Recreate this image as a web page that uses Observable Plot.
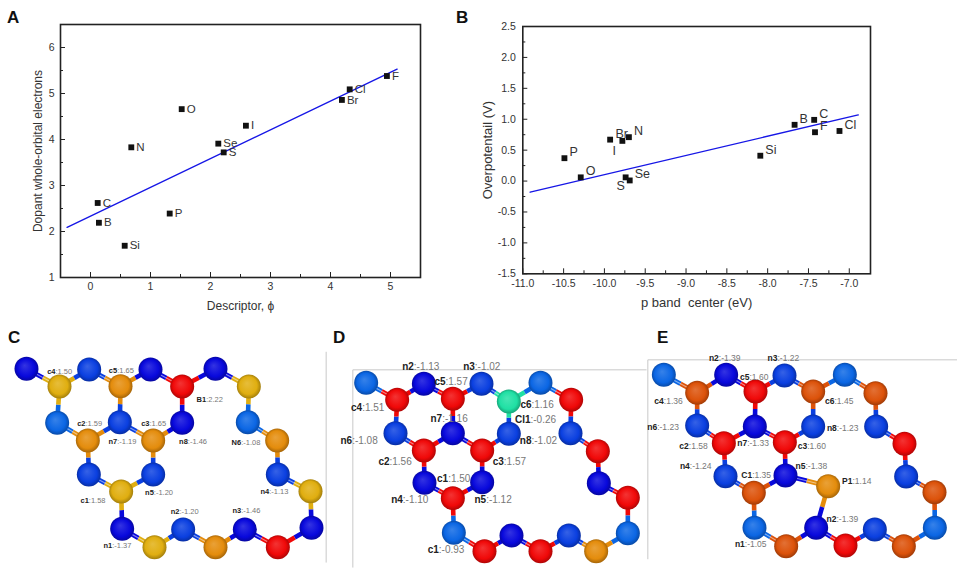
<!DOCTYPE html>
<html>
<head>
<meta charset="utf-8">
<script src="https://cdn.jsdelivr.net/npm/d3@7"></script>
<script src="https://cdn.jsdelivr.net/npm/@observablehq/plot@0.6"></script>
<style>
  html, body { margin: 0; background: #fff; }
  #page { position: relative; width: 957px; height: 568px; overflow: hidden; font-family: "Liberation Sans", Arial, sans-serif; }
  #page svg.panel { position: absolute; background: transparent; overflow: visible; }
  .letter { position: absolute; font-weight: bold; font-size: 17px; line-height: 17px; color: #111; }
</style>
</head>
<body>
<div id="page"></div>
<script>
// panel A
const aNames = ["C", "B", "Si", "P", "N", "O", "Se", "S", "I", "Br", "Cl", "F"];
const aDescriptor = [0.12, 0.14, 0.57, 1.32, 0.68, 1.52, 2.13, 2.22, 2.59, 4.19, 4.32, 4.94];
const aElectrons = [2.62, 2.19, 1.69, 2.39, 3.83, 4.66, 3.91, 3.72, 4.30, 4.86, 5.09, 5.38];
const aFitX = [-0.39, 5.11];
const aFitY = [2.09, 5.53];
const aTicksX = [0, 1, 2, 3, 4, 5];
const aMinorX = [0.5, 1.5, 2.5, 3.5, 4.5];
const aTicksY = [1, 2, 3, 4, 5, 6];
const aMinorY = [1.5, 2.5, 3.5, 4.5, 5.5];

// panel B
const bNames = ["P", "O", "I", "Br", "N", "S", "Se", "Si", "B", "C", "F", "Cl"];
const bCenter = [-10.49, -10.29, -9.93, -9.78, -9.70, -9.74, -9.69, -8.09, -7.67, -7.43, -7.42, -7.12];
const bOverpotential = [0.37, 0.06, 0.67, 0.65, 0.71, 0.06, 0.01, 0.41, 0.91, 0.99, 0.79, 0.81];
const bFitX = [-10.91, -6.89];
const bFitY = [-0.18, 1.07];
const bTicksX = [-11, -10.5, -10, -9.5, -9, -8.5, -8, -7.5, -7];
const bMinorX = [-10.75, -10.25, -9.75, -9.25, -8.75, -8.25, -7.75, -7.25];
const bTicksY = [-1.5, -1, -0.5, 0, 0.5, 1, 1.5, 2, 2.5];
const bMinorY = [-1.25, -0.75, -0.25, 0.25, 0.75, 1.25, 1.75, 2.25];
// labels that do not sit at the usual upper right of their point
const bLabelShift = {I: [4, 11, "middle"], Br: [-7, -7, "start"], S: [-5, 9, "middle"]};

// molecule colours
const atomColors = {
  navy: "#0808dc", blue: "#0a3fe0", sky: "#0b66e4",
  gold: "#e0ae10", amber: "#e48c0c", rust: "#dc520a",
  red: "#f00808", mint: "#1fe0a4"
};

// atoms: x, y in a 3x view of each panel, colour
const cAtoms = [
  [78,145,"navy"],[177,198,"gold"],[266,147,"blue"],[360,197,"amber"],[450,147,"navy"],[545,198,"red"],
  [645,145,"navy"],[745,198,"gold"],[742,305,"sky"],[830,360,"amber"],[832,462,"blue"],[930,512,"gold"],
  [933,622,"navy"],[832,680,"red"],[733,627,"navy"],[645,680,"amber"],[548,627,"blue"],[462,680,"gold"],
  [365,625,"navy"],[362,513,"gold"],[265,462,"blue"],[458,462,"blue"],[262,360,"amber"],[458,360,"amber"],
  [170,307,"sky"],[358,305,"blue"],[545,307,"navy"]
];
const dAtoms = [
  [122,187,"sky"],[215,238,"red"],[295,190,"navy"],[382,235,"red"],[468,190,"blue"],[550,243,"mint"],
  [645,187,"sky"],[737,238,"red"],[735,338,"blue"],[817,392,"red"],[820,488,"navy"],[907,532,"red"],
  [907,638,"sky"],[812,692,"amber"],[730,645,"blue"],[645,692,"red"],[558,645,"navy"],[477,692,"red"],
  [385,637,"sky"],[382,533,"red"],[297,487,"navy"],[470,485,"navy"],[295,390,"red"],[470,390,"red"],
  [210,338,"blue"],[382,338,"navy"],[550,340,"blue"]
];
const eAtoms = [
  [70,163,"sky"],[170,217,"rust"],[257,163,"navy"],[345,213,"red"],[432,165,"blue"],[518,213,"rust"],
  [613,163,"sky"],[705,218,"rust"],[707,318,"blue"],[792,370,"red"],[797,468,"blue"],[882,515,"rust"],
  [883,622,"sky"],[790,677,"rust"],[703,627,"blue"],[615,675,"red"],[527,622,"navy"],[437,677,"rust"],
  [342,622,"sky"],[340,517,"rust"],[255,467,"blue"],[435,465,"navy"],[250,368,"red"],[433,365,"red"],
  [170,315,"blue"],[343,318,"navy"],[518,318,"blue"],[563,497,"amber"]
];

// bonds between atom indexes
const ringBonds = [
  [0,1],[1,2],[2,3],[3,4],[4,5],[5,6],[6,7],[7,8],[8,9],[9,10],[10,11],[11,12],[12,13],[13,14],
  [14,15],[15,16],[16,17],[17,18],[18,19],[19,20],[19,21],[20,22],[21,23],[22,24],[24,1],[22,25],
  [23,25],[25,3],[23,26],[26,5]
];
const eBonds = [...ringBonds, [21,27], [27,16]];

// charge labels: name, value, x and y of the point between them
const cLabels = [
  ["c4",":1.50",165,152],["c5",":1.65",350,150],["B1",":2.22",617,236],["c2",":1.59",255,310],
  ["c3",":1.65",447,310],["n7",":-1.19",350,362],["n8",":-1.46",562,363],["N6",":-1.08",722,366],
  ["n5",":-1.20",460,516],["n4",":-1.13",806,512],["c1",":1.58",265,541],["n2",":-1.20",537,574],
  ["n3",":-1.46",722,570],["n1",":-1.37",335,675]
];
const dLabels = [
  ["n2",":-1.13",265,138],["n3",":-1.02",448,138],["c5",":1.57",360,185],["c4",":1.51",110,263],
  ["c6",":1.16",618,254],["n7",":-1.16",350,296],["Cl1",":-0.26",615,298],["n6",":-1.08",80,362],
  ["n8",":-1.02",618,361],["c2",":1.56",192,424],["c3",":1.57",535,424],["c1",":1.50",368,476],
  ["n4",":-1.10",232,539],["n5",":-1.12",482,539],["c1",":-0.93",340,689]
];
const eLabels = [
  ["n2",":-1.39",235,114],["n3",":-1.22",411,114],["c5",":1.60",327,169],["c4",":1.36",70,243],
  ["c6",":1.45",582,243],["n6",":-1.23",50,320],["n8",":-1.23",589,322],["c2",":1.58",145,378],
  ["n7",":-1.33",320,368],["c3",":1.60",500,377],["n4",":-1.24",148,438],["n5",":-1.38",495,437],
  ["C1",":1.35",335,465],["P1",":1.14",636,481],["n2",":-1.39",588,597],["n1",":-1.05",313,672]
];

// thin grey crop lines left in the figure
const cFrame = [[[977,95],[977,725]]];
const dFrame = [[[82,740],[82,148],[962,148]]];
const eFrame = [[[22,715],[22,118],[951,118]]];

const page = document.getElementById("page");

function place(node, left, top) {
  node.classList.add("panel");
  node.style.left = left + "px";
  node.style.top = top + "px";
  page.appendChild(node);
}

function letter(text, left, top) {
  const div = document.createElement("div");
  div.className = "letter";
  div.textContent = text;
  div.style.left = left + "px";
  div.style.top = top + "px";
  page.appendChild(div);
}

// gradients shared by all the atoms
const defs = d3.select(page).append("svg").attr("width", 0).attr("height", 0)
  .style("position", "absolute").append("defs");
for (const [name, color] of Object.entries(atomColors)) {
  const g = defs.append("radialGradient").attr("id", "atom-" + name)
    .attr("cx", "50%").attr("cy", "50%").attr("r", "52%").attr("fx", "42%").attr("fy", "36%");
  g.append("stop").attr("offset", "0%").attr("stop-color", d3.interpolateRgb(color, "#fff")(0.18));
  g.append("stop").attr("offset", "70%").attr("stop-color", color);
  g.append("stop").attr("offset", "100%").attr("stop-color", d3.interpolateRgb(color, "#000")(0.3));
}

function axes(ticksX, minorX, ticksY, minorY, fmt, labelX, labelY, offsetX, offsetY, padX, padY, labelSize) {
  const common = {fontSize: 10.5, fill: "#333", stroke: "#222"};
  return [
    Plot.axisX(minorX, {tickSize: -3, tickFormat: () => "", stroke: "#222", label: null}),
    Plot.axisY(minorY, {tickSize: -3, tickFormat: () => "", stroke: "#222", label: null}),
    Plot.axisX(ticksX, {...common, tickSize: -5, tickPadding: padX, tickFormat: fmt, label: null}),
    Plot.axisY(ticksY, {...common, tickSize: -5, tickPadding: padY, tickFormat: fmt, label: null}),
    Plot.text([labelX], {frameAnchor: "bottom", dy: offsetX, fontSize: labelSize, fill: "#333"}),
    Plot.text([labelY], {frameAnchor: "left", dx: -offsetY, rotate: -90, textAnchor: "middle", fontSize: labelSize, fill: "#333"}),
    Plot.frame({stroke: "#222", strokeWidth: 1.6})
  ];
}

const chartA = Plot.plot({
  width: 450, height: 320,
  marginLeft: 60, marginRight: 30, marginTop: 24, marginBottom: 43,
  style: {fontFamily: "Liberation Sans, Arial, sans-serif", background: "transparent"},
  x: {domain: [-0.5, 5.5], axis: null},
  y: {domain: [1, 6.5], axis: null},
  marks: [
    ...axes(aTicksX, aMinorX, aTicksY, aMinorY, d => String(d), "Descriptor, ϕ", "Dopant whole-orbital electrons", 32, 22, 10, 11, 12),
    Plot.line(aFitX.map((x, i) => [x, aFitY[i]]), {x: "0", y: "1", stroke: "#1616e6", strokeWidth: 1.4}),
    Plot.dot(aNames, {x: (d, i) => aDescriptor[i], y: (d, i) => aElectrons[i], symbol: "square", r: 3.3, fill: "#111"}),
    Plot.text(aNames, {x: (d, i) => aDescriptor[i], y: (d, i) => aElectrons[i], text: d => d, dx: 5, textAnchor: "start", fontSize: 11.5, fill: "#333"})
  ]
});
place(chartA, 0, 0);

const chartB = Plot.plot({
  width: 450, height: 320,
  marginLeft: 72.3, marginRight: 30, marginTop: 26, marginBottom: 46.7,
  style: {fontFamily: "Liberation Sans, Arial, sans-serif", background: "transparent"},
  x: {domain: [-11, -6.74], axis: null},
  y: {domain: [-1.5, 2.5], axis: null},
  marks: [
    ...axes(bTicksX, bMinorX, bTicksY, bMinorY, d => d.toFixed(1), "p band  center (eV)", "Overpotentail (V)", 33, 35, 11, 12, 13),
    Plot.line(bFitX.map((x, i) => [x, bFitY[i]]), {x: "0", y: "1", stroke: "#1616e6", strokeWidth: 1.4}),
    Plot.dot(bNames, {x: (d, i) => bCenter[i], y: (d, i) => bOverpotential[i], symbol: "square", r: 3.3, fill: "#111"}),
    ...bNames.map((name, i) => {
      const [dx, dy, anchor] = bLabelShift[name] || [5, -6, "start"];
      return Plot.text([name], {x: () => bCenter[i], y: () => bOverpotential[i], text: d => d, dx, dy, textAnchor: anchor, fontSize: 12.5, fill: "#333"});
    })
  ]
});
place(chartB, 450, 0);

function molecule(atoms, bonds, labels, frame, width, fontSize) {
  // every bond is drawn as two halves, each in the colour of its atom
  const halves = bonds.flatMap(([a, b]) => {
    const p = atoms[a], q = atoms[b];
    const mid = [(p[0] + q[0]) / 2, (p[1] + q[1]) / 2];
    return [
      {x1: p[0], y1: p[1], x2: mid[0], y2: mid[1], color: atomColors[p[2]]},
      {x1: mid[0], y1: mid[1], x2: q[0], y2: q[1], color: atomColors[q[2]]}
    ];
  });
  // bonds falling to the right catch the light in the original rendering
  const lit = bonds.map(([a, b]) => {
    const [p, q] = atoms[a][0] < atoms[b][0] ? [atoms[a], atoms[b]] : [atoms[b], atoms[a]];
    return {p, q};
  }).filter(({p, q}) => q[1] - p[1] > 20 && q[0] - p[0] > 20);
  return Plot.plot({
    width, height: 248,
    marginLeft: 0, marginRight: 0, marginTop: 0, marginBottom: 0,
    style: {fontFamily: "Liberation Sans, Arial, sans-serif", background: "transparent"},
    x: {domain: [0, width * 3], axis: null},
    y: {domain: [744, 0], axis: null},
    color: {type: "identity"},
    marks: [
      ...frame.map(pts => Plot.line(pts, {x: "0", y: "1", stroke: "#c8c8c8", strokeWidth: 1})),
      Plot.link(halves, {x1: "x1", y1: "y1", x2: "x2", y2: "y2", stroke: "color", strokeWidth: 4.6}),
      Plot.link(lit, {x1: d => d.p[0], y1: d => d.p[1], x2: d => d.q[0], y2: d => d.q[1], stroke: "#fff", strokeOpacity: 0.5, strokeWidth: 1.1}),
      Plot.dot(atoms, {x: "0", y: "1", r: 12, fill: d => `url(#atom-${d[2]})`}),
      Plot.text(labels, {x: "2", y: "3", text: "0", textAnchor: "end", fontWeight: "bold", fontSize, fill: "#222"}),
      Plot.text(labels, {x: "2", y: "3", text: "1", textAnchor: "start", fontSize, fill: "#777"})
    ]
  });
}

place(molecule(cAtoms, ringBonds, cLabels, cFrame, 330, 7.5), 0, 320);
place(molecule(dAtoms, ringBonds, dLabels, dFrame, 330, 10), 325, 320);
place(molecule(eAtoms, eBonds, eLabels, eFrame, 317, 8.5), 640, 320);

letter("A", 7, 9);
letter("B", 456, 9);
letter("C", 8, 329);
letter("D", 333, 329);
letter("E", 657, 329);
</script>
</body>
</html>
